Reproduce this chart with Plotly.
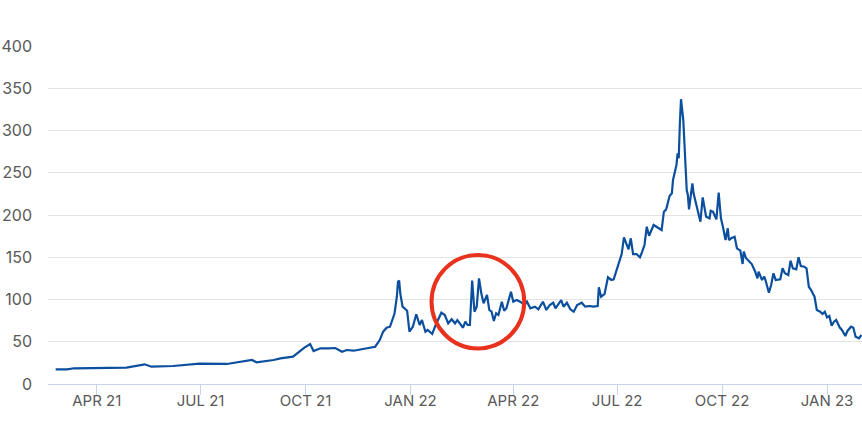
import pandas as pd
import plotly.graph_objects as go

# Days counted from 1 April 2021, with the value
base_date = pd.Timestamp('2021-04-01')
day_offsets = [
    -36, -26, -20, 9, 26, 42, 48, 67, 90, 114, 126, 136, 140, 155, 161, 172,
    182, 187, 190, 196, 203, 209, 215, 219, 225, 231, 237, 244, 248, 251, 254,
    257, 260, 261, 263, 264, 265, 266, 268, 272, 274, 277, 280, 283, 285, 288,
    290, 294, 297, 302, 305, 308, 311, 314, 316, 319, 321, 323, 325, 327, 329,
    331, 333, 335, 337, 339, 342, 344, 346, 348, 350, 352, 355, 357, 359, 363,
    365, 368, 371, 375, 377, 380, 384, 387, 391, 394, 397, 400, 402, 407, 409,
    412, 415, 418, 421, 425, 428, 432, 435, 439, 440, 442, 445, 448, 451, 453,
    456, 458, 460, 462, 464, 466, 468, 470, 473, 476, 478, 480, 482, 484, 488,
    491, 493, 495, 497, 499, 502, 504, 505, 508, 509, 510, 511, 512, 514, 515,
    517, 518, 519, 521, 522, 523, 524, 526, 527, 529, 531, 534, 537, 538, 540,
    543, 545, 547, 549, 551, 553, 554, 556, 559, 561, 564, 566, 567, 569, 572,
    574, 577, 579, 580, 583, 585, 586, 589, 591, 593, 595, 599, 601, 603, 606,
    608, 610, 613, 615, 617, 620, 622, 624, 626, 629, 631, 634, 636, 638, 640,
    642, 644, 646, 648, 651, 653, 656, 658, 661, 663, 665, 668, 670,
]
values = [
    17.4, 17.4, 18.6, 18.9, 19.3, 23.3, 20.5, 21.3, 24.0, 23.7, 26.0, 28.4,
    25.7, 28.4, 30.4, 32.3, 43.0, 47.3, 39.0, 42.2, 42.2, 42.6, 38.2, 40.2,
    39.4, 41.0, 42.2, 44.1, 52.0, 61.9, 66.5, 67.8, 79.6, 83.7, 103.3, 121.0,
    122.3, 107.3, 91.5, 86.7, 61.9, 67.8, 82.5, 69.8, 75.7, 61.9, 63.9, 59.2,
    69.8, 84.4, 81.7, 71.8, 76.6, 71.8, 75.7, 69.8, 66.6, 73.7, 69.8, 69.8,
    122.3, 85.6, 91.5, 125.0, 107.3, 95.5, 105.3, 87.6, 85.6, 74.6, 83.7, 81.7,
    97.4, 86.7, 89.6, 109.2, 97.4, 99.4, 97.4, 93.5, 97.4, 89.6, 91.5, 88.4,
    97.4, 87.6, 93.5, 96.2, 89.6, 99.4, 91.5, 96.2, 88.4, 85.6, 93.5, 96.2,
    91.5, 92.3, 91.5, 92.3, 114.4, 103.3, 106.5, 126.3, 123.1, 123.9, 136.9,
    146.7, 153.8, 173.6, 165.7, 159.4, 172.4, 153.8, 153.8, 149.9, 156.6, 164.5,
    186.2, 175.5, 188.2, 185.4, 183.1, 182.2, 203.9, 206.7, 222.5, 225.7, 241.4,
    259.2, 273.0, 267.1, 308.5, 337.0, 312.4, 288.8, 229.6, 223.7, 206.7, 227.6,
    237.5, 225.7, 219.8, 211.8, 205.9, 192.1, 220.9, 198.0, 196.1, 205.0, 203.9,
    194.9, 226.4, 196.1, 184.3, 170.4, 184.3, 170.4, 172.4, 174.3, 160.6, 157.8,
    142.0, 156.6, 148.8, 144.7, 142.0, 132.9, 125.1, 132.9, 123.1, 127.0, 123.1,
    108.0, 117.2, 131.0, 123.1, 123.9, 136.9, 131.0, 129.0, 145.9, 136.9, 135.7,
    149.9, 139.6, 138.8, 136.9, 115.1, 111.2, 103.3, 87.6, 85.6, 82.8, 85.6,
    78.9, 80.5, 69.0, 73.7, 75.7, 67.1, 63.9, 56.8, 63.1, 67.8, 66.6, 56.0,
    54.1, 58.0,
]

tick_dates = ['2021-04-01', '2021-07-01', '2021-10-01', '2022-01-01',
              '2022-04-01', '2022-07-01', '2022-10-01', '2023-01-01']
tick_labels = ['APR 21', 'JUL 21', 'OCT 21', 'JAN 22',
               'APR 22', 'JUL 22', 'OCT 22', 'JAN 23']
y_ticks = [0, 50, 100, 150, 200, 250, 300, 350, 400]

# Highlight ring around the March 2022 spikes (centre offset in days, value)
ring_center_day = 334
ring_center_value = 97.4
ring_half_width_days = 40.6
ring_half_height = 55.3

dates = base_date + pd.to_timedelta(day_offsets, unit='D')

line_blue = '#0b4f9e'
axis_blue = '#c5d4ea'
label_gray = '#595959'

fig = go.Figure()

fig.add_trace(go.Scatter(
    x=dates,
    y=values,
    mode='lines',
    line=dict(color=line_blue, width=2.2),
    hovertemplate='%{x|%Y-%m-%d}: %{y:.1f}<extra></extra>',
))

ring_x0 = base_date + pd.Timedelta(days=ring_center_day - ring_half_width_days)
ring_x1 = base_date + pd.Timedelta(days=ring_center_day + ring_half_width_days)
fig.add_shape(
    type='circle',
    xref='x', yref='y',
    x0=ring_x0, x1=ring_x1,
    y0=ring_center_value - ring_half_height,
    y1=ring_center_value + ring_half_height,
    line=dict(color='#e8321e', width=4),
)

fig.update_layout(
    width=862,
    height=444,
    margin=dict(t=46, l=48, r=0, b=60),
    plot_bgcolor='white',
    paper_bgcolor='white',
    showlegend=False,
    font=dict(family='Inter, Roboto, sans-serif', color=label_gray),
)

fig.update_xaxes(
    range=[base_date - pd.Timedelta(days=42.7), base_date + pd.Timedelta(days=670.6)],
    tickvals=tick_dates,
    ticktext=tick_labels,
    ticks='outside',
    ticklen=10,
    tickcolor=axis_blue,
    tickfont=dict(size=15, color=label_gray),
    ticklabelstandoff=-7,
    showgrid=False,
    showline=True,
    linecolor=axis_blue,
    linewidth=1,
    zeroline=False,
    automargin=False,
)

fig.update_yaxes(
    range=[0, 400],
    tickvals=y_ticks,
    tickfont=dict(size=16, color=label_gray),
    ticklabelstandoff=15,
    showgrid=True,
    gridcolor='#e3e3e3',
    gridwidth=1,
    zeroline=False,
    showline=False,
    automargin=False,
)

# drop the page's default body margin so the chart fills the window
fig.write_html(
    'out.html',
    config={'displayModeBar': False},
    post_script="document.body.style.margin = '0';",
)
